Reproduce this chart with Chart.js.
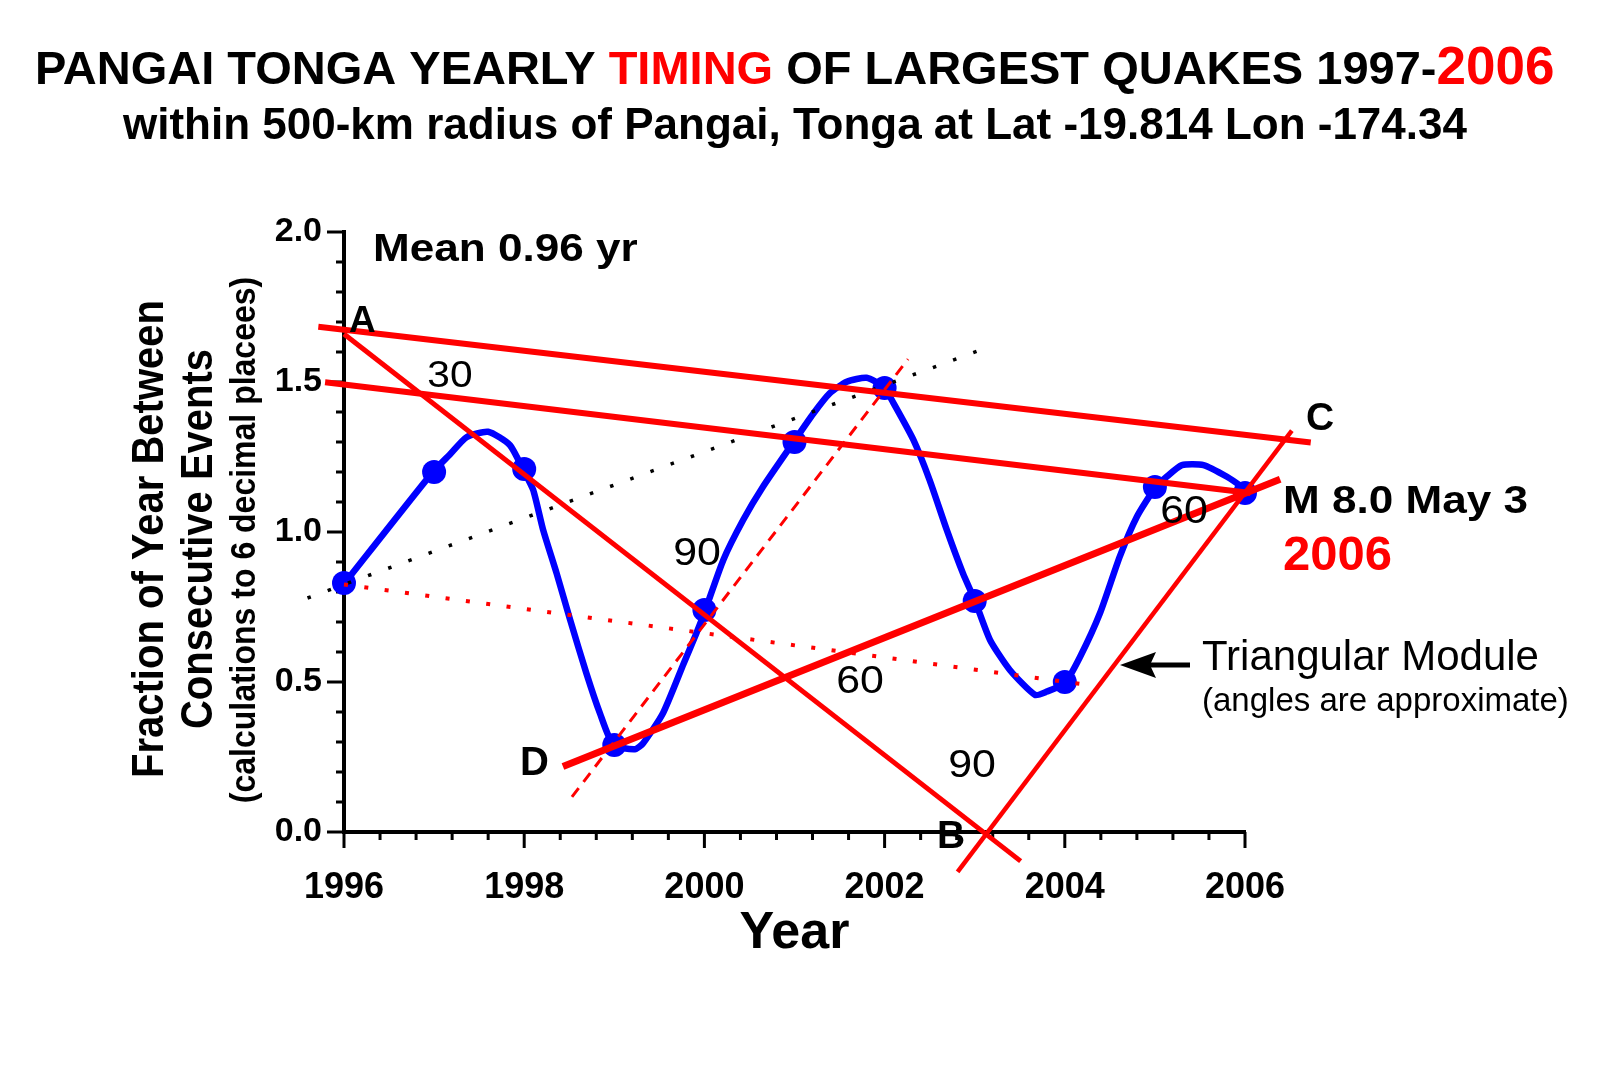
<!DOCTYPE html>
<html><head><meta charset="utf-8">
<script src="https://cdn.jsdelivr.net/npm/chart.js@4.4.1/dist/chart.umd.min.js"></script>
<style>html,body{margin:0;padding:0;background:#fff;}canvas{display:block;}</style>
</head><body>
<canvas id="c" width="1600" height="1067"></canvas>
<script>
// ---- data ----
const eventYears = [1996, 1997, 1998, 1999, 2000, 2001, 2002, 2003, 2004, 2005, 2006];
const intervalValues = [0.83, 1.20, 1.21, 0.29, 0.74, 1.30, 1.48, 0.77, 0.50, 1.15, 1.13];

// traced smooth curve through the events
const curveYears = [1996.00, 1996.98, 1997.18, 1997.36, 1997.60, 1997.84, 1997.99, 1998.10, 1998.21, 1998.36, 1998.51, 1998.69, 1998.84, 1998.99, 1999.23, 1999.32, 1999.54, 1999.77, 1999.91, 2000.01, 2000.21, 2000.43, 2000.65, 2000.99, 2001.21, 2001.39, 2001.58, 2001.80, 2001.99, 2002.10, 2002.32, 2002.50, 2002.69, 2002.87, 2003.00, 2003.17, 2003.39, 2003.67, 2003.80, 2004.00, 2004.17, 2004.39, 2004.61, 2004.80, 2005.00, 2005.13, 2005.30, 2005.54, 2005.80, 2005.96, 2006.04];
const curveValues = [0.827, 1.198, 1.26, 1.316, 1.334, 1.29, 1.207, 1.14, 1.007, 0.862, 0.707, 0.529, 0.396, 0.29, 0.276, 0.296, 0.396, 0.562, 0.662, 0.74, 0.907, 1.04, 1.151, 1.30, 1.395, 1.462, 1.501, 1.514, 1.484, 1.429, 1.307, 1.173, 1.007, 0.862, 0.773, 0.64, 0.54, 0.457, 0.468, 0.496, 0.584, 0.729, 0.918, 1.051, 1.146, 1.184, 1.223, 1.223, 1.184, 1.151, 1.129];

// construction lines (end points)
const lineACYears = [1995.715, 2006.73];
const lineACValues = [1.684, 1.298];
const line2Years = [1995.79, 2006.06];
const line2Values = [1.499, 1.13];
const lineABYears = [1996.0, 2003.51];
const lineABValues = [1.66, -0.097];
const lineBCYears = [2002.81, 2006.52];
const lineBCValues = [-0.133, 1.338];
const lineDYears = [1998.43, 2006.39];
const lineDValues = [0.218, 1.176];
const dashedYears = [1998.53, 2002.26];
const dashedValues = [0.117, 1.576];
const blackDotYears = [1995.595, 2003.04];
const blackDotValues = [0.78, 1.604];
const redDotYears = [1996.0, 2004.19];
const redDotValues = [0.825, 0.493];

const xTickLabels = ['1996', '1998', '2000', '2002', '2004', '2006'];
const yTickLabels = ['0.0', '0.5', '1.0', '1.5', '2.0'];

const FONT = '"Liberation Sans", Arial, Helvetica, sans-serif';
const RED = '#ff0000', BLUE = '#0000ff';

function pts(xs, ys) { return xs.map((x, i) => ({x: x, y: ys[i]})); }
function seg(xs, ys, color, width, dash, order) {
  return {data: pts(xs, ys), borderColor: color, borderWidth: width, borderDash: dash || [],
    pointRadius: 0, fill: false, tension: 0, clip: false, order: order, borderCapStyle: 'butt'};
}

function drawText(ctx, text, x, y, size, weight, color, align, sx) {
  ctx.save();
  ctx.translate(x, y);
  ctx.scale(sx || 1, 1);
  ctx.font = weight + ' ' + size + 'px ' + FONT;
  ctx.fillStyle = color;
  ctx.textAlign = align || 'left';
  ctx.textBaseline = 'alphabetic';
  ctx.fillText(text, 0, 0);
  ctx.restore();
}
function drawVText(ctx, text, bx, cy, size, weight, sx) {
  ctx.save();
  ctx.translate(bx, cy);
  ctx.scale(sx || 1, 1);
  ctx.rotate(-Math.PI / 2);
  ctx.font = weight + ' ' + size + 'px ' + FONT;
  ctx.fillStyle = '#000';
  ctx.textAlign = 'center';
  ctx.textBaseline = 'alphabetic';
  ctx.fillText(text, 0, 0);
  ctx.restore();
}

const tickPlugin = {
  id: 'tickMarks',
  beforeDatasetsDraw(chart) {
    const ctx = chart.ctx, xs = chart.scales.x, ys = chart.scales.y;
    ctx.save();
    ctx.strokeStyle = '#000'; ctx.lineWidth = 3; ctx.lineCap = 'butt';
    xs.ticks.forEach(t => {
      const px = xs.getPixelForValue(t.value);
      const len = t.label ? 16 : 8;
      ctx.beginPath(); ctx.moveTo(px, xs.top); ctx.lineTo(px, xs.top + len); ctx.stroke();
    });
    ys.ticks.forEach(t => {
      const py = ys.getPixelForValue(t.value);
      const len = t.label ? 17 : 8;
      ctx.beginPath(); ctx.moveTo(ys.right, py); ctx.lineTo(ys.right - len, py); ctx.stroke();
    });
    ctx.restore();
  }
};

const textPlugin = {
  id: 'texts',
  afterDraw(chart) {
    const ctx = chart.ctx;
    // title
    ctx.save();
    let x = 35;
    const parts = [['PANGAI TONGA YEARLY ', '#000', 47], ['TIMING', RED, 47], [' OF LARGEST QUAKES 1997-', '#000', 47], ['2006', RED, 53]];
    parts.forEach(p => {
      ctx.font = 'bold ' + p[2] + 'px ' + FONT;
      ctx.fillStyle = p[1];
      ctx.textBaseline = 'alphabetic';
      ctx.textAlign = 'left';
      ctx.fillText(p[0], x, 84);
      x += ctx.measureText(p[0]).width;
    });
    ctx.restore();
    drawText(ctx, 'within 500-km radius of Pangai, Tonga at Lat -19.814 Lon -174.34', 123, 139, 44, 'bold', '#000', 'left', 1);

    // y axis title
    drawVText(ctx, 'Fraction of Year Between', 163, 539, 40, 'bold', 1.1);
    drawVText(ctx, 'Consecutive Events', 212, 539, 40, 'bold', 1.1);
    drawVText(ctx, '(calculations to 6 decimal placees)', 255, 540, 32, 'bold', 1.1);

    // annotations
    drawText(ctx, 'Mean 0.96 yr', 373, 261, 38, 'bold', '#000', 'left', 1.16);
    drawText(ctx, 'A', 349, 332, 37, 'bold', '#000', 'left', 1);
    drawText(ctx, '30', 450, 387, 37, 'normal', '#000', 'center', 1.1);
    drawText(ctx, '90', 697, 565, 39, 'normal', '#000', 'center', 1.1);
    drawText(ctx, '60', 860, 693, 39, 'normal', '#000', 'center', 1.1);
    drawText(ctx, '60', 1184, 523, 39, 'normal', '#000', 'center', 1.1);
    drawText(ctx, '90', 972, 777, 39, 'normal', '#000', 'center', 1.1);
    drawText(ctx, 'B', 937, 848, 39, 'bold', '#000', 'left', 1);
    drawText(ctx, 'C', 1306, 430, 39, 'bold', '#000', 'left', 1);
    drawText(ctx, 'D', 520, 775, 40, 'bold', '#000', 'left', 1);
    drawText(ctx, 'M 8.0 May 3', 1283, 513, 38, 'bold', '#000', 'left', 1.16);
    drawText(ctx, '2006', 1283, 570, 49, 'bold', RED, 'left', 1);
    drawText(ctx, 'Triangular Module', 1202, 670, 42, 'normal', '#000', 'left', 1);
    drawText(ctx, '(angles are approximate)', 1202, 711, 33, 'normal', '#000', 'left', 1);

    // arrow
    ctx.save();
    ctx.strokeStyle = '#000'; ctx.fillStyle = '#000'; ctx.lineWidth = 5;
    ctx.beginPath(); ctx.moveTo(1190, 665); ctx.lineTo(1148, 665); ctx.stroke();
    ctx.beginPath(); ctx.moveTo(1120, 665); ctx.lineTo(1156, 652); ctx.lineTo(1150, 665); ctx.lineTo(1156, 678); ctx.closePath(); ctx.fill();
    ctx.restore();
  }
};

new Chart(document.getElementById('c'), {
  type: 'line',
  data: {
    datasets: [
      seg(lineACYears, lineACValues, RED, 6, null, 1),
      seg(line2Years, line2Values, RED, 6, null, 1),
      seg(lineABYears, lineABValues, RED, 5, null, 1),
      seg(lineBCYears, lineBCValues, RED, 4.5, null, 1),
      seg(lineDYears, lineDValues, RED, 7, null, 1),
      seg(dashedYears, dashedValues, RED, 3, [11, 8], 1),
      seg(redDotYears, redDotValues, RED, 4, [4, 16.5], 1),
      seg(blackDotYears, blackDotValues, '#000', 3.5, [3.5, 18], 2),
      {data: pts(eventYears, intervalValues), showLine: false, pointRadius: 12, pointBackgroundColor: BLUE,
       pointBorderWidth: 0, pointBorderColor: BLUE, clip: false, order: 3},
      {data: pts(curveYears, curveValues), borderColor: BLUE, borderWidth: 6.5, pointRadius: 0, tension: 0.2,
       fill: false, clip: false, order: 4}
    ]
  },
  options: {
    responsive: false,
    animation: false,
    events: [],
    layout: {padding: {left: 244, right: 355, top: 232, bottom: 102}},
    plugins: {legend: {display: false}, tooltip: {enabled: false}, title: {display: false}},
    scales: {
      x: {
        type: 'linear', min: 1996, max: 2006,
        grid: {display: false, drawTicks: false},
        border: {display: true, color: '#000', width: 4},
        ticks: {
          stepSize: 0.4, autoSkip: false, maxRotation: 0, padding: 34, color: '#000',
          font: {family: FONT, size: 36, weight: 'bold'},
          callback: function (v) {
            const r = Math.round(v * 10) / 10;
            const s = String(r);
            return xTickLabels.includes(s) ? s : '';
          }
        },
        title: {display: true, text: 'Year', color: '#000', padding: 0, font: {family: FONT, size: 52, weight: 'bold'}},
        afterFit: function (s) { s.height = 133; }
      },
      y: {
        type: 'linear', min: 0, max: 2,
        grid: {display: false, drawTicks: false},
        border: {display: true, color: '#000', width: 4},
        ticks: {
          stepSize: 0.1, autoSkip: false, padding: 22, color: '#000',
          font: {family: FONT, size: 34, weight: 'bold'},
          callback: function (v) {
            const s = (Math.round(v * 10) / 10).toFixed(1);
            return yTickLabels.includes(s) ? s : '';
          }
        },
        afterFit: function (s) { s.width = 100; }
      }
    }
  },
  plugins: [tickPlugin, textPlugin]
});
</script>
</body></html>
